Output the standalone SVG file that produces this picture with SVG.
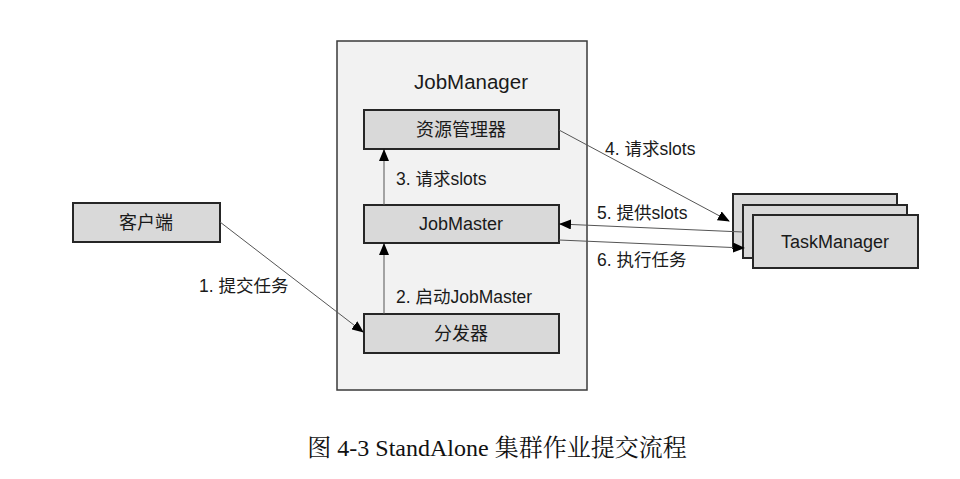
<svg xmlns="http://www.w3.org/2000/svg" width="960" height="479" viewBox="0 0 960 479">
<style>
.box{fill:#d9d9d9;stroke:#262626;stroke-width:2}
.outer{fill:#f2f2f2;stroke:#3a3a3a;stroke-width:1.5}
.t{font-family:"Liberation Sans","Noto Sans CJK SC",sans-serif;fill:#1a1a1a}
.c{text-anchor:middle}
.ln{stroke:#555;stroke-width:1;fill:none;marker-end:url(#ah)}
</style>
<defs>
<marker id="ah" markerWidth="12" markerHeight="10" refX="11" refY="5" orient="auto" markerUnits="userSpaceOnUse">
<path d="M0,0 L12,5 L0,10 Z" fill="#000"/>
</marker>
</defs>
<rect width="960" height="479" fill="#fff"/>
<g id="jobmanager">
<rect class="outer" x="337" y="41" width="250" height="349"/>
<text class="t c" x="471" y="89" font-size="20.5">JobManager</text>
</g>
<g id="resourcemanager">
<rect class="box" x="364" y="110" width="195" height="39"/>
<text class="t c" x="461" y="136" font-size="18">资源管理器</text>
</g>
<g id="jobmaster">
<rect class="box" x="364" y="205" width="195" height="38"/>
<text class="t c" x="461" y="230" font-size="18">JobMaster</text>
</g>
<g id="dispatcher">
<rect class="box" x="364" y="314" width="195" height="39"/>
<text class="t c" x="461" y="340" font-size="18">分发器</text>
</g>
<g id="client">
<rect class="box" x="73" y="203" width="147" height="39"/>
<text class="t c" x="146" y="229" font-size="18">客户端</text>
</g>
<g id="taskmanager">
<rect class="box" x="733" y="194" width="164" height="54"/>
<rect class="box" x="743" y="205" width="164" height="53"/>
<rect class="box" x="753" y="215" width="165" height="53"/>
<text class="t c" x="835" y="248" font-size="18">TaskManager</text>
</g>
<g id="connectors">
<path class="ln" d="M220,222 L363,332"/>
<path class="ln" d="M384,314 L384,244"/>
<path class="ln" d="M384,205 L384,150"/>
<path class="ln" d="M559,130 L729,221"/>
<path class="ln" d="M743,232 L560,224"/>
<path class="ln" d="M559,240 L744,248"/>
</g>
<g id="labels">
<text class="t" x="199" y="292" font-size="17.5">1. 提交任务</text>
<text class="t" x="396" y="303" font-size="17.5">2. 启动JobMaster</text>
<text class="t" x="396" y="185" font-size="17.5">3. 请求slots</text>
<text class="t" x="605" y="155" font-size="17.5">4. 请求slots</text>
<text class="t" x="597" y="219" font-size="17.5">5. 提供slots</text>
<text class="t" x="597" y="266" font-size="17.5">6. 执行任务</text>
</g>
<text x="497" y="456" font-size="24" text-anchor="middle" font-family="'Liberation Serif','Noto Serif CJK SC','Noto Sans CJK SC',serif" fill="#111">图 4-3 StandAlone 集群作业提交流程</text>
</svg>
